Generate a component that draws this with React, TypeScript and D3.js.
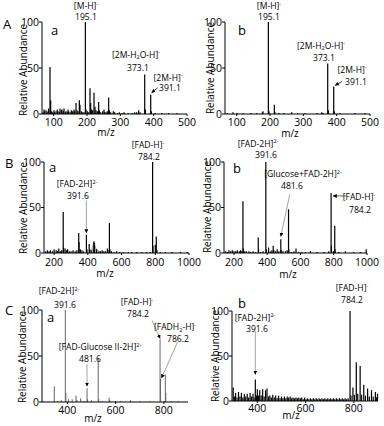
import React from "react";
import * as d3 from "d3";

type Pk = [number, number];

// ---------- tick values ----------
const ticksA = [100, 200, 300, 400, 500];
const ticksB = [200, 400, 600, 800, 1000];
const ticksC = [400, 600, 800];
const yTicks = [0, 50, 100];

// ---------- spectra (m/z, relative abundance) ----------
const peaksAa: Pk[] = [
  [68, 2], [71, 5], [73, 3], [77, 4], [80, 2], [83, 3], [85, 6], [89, 51], [91, 15], [94, 3], [97, 2],
  [101, 4], [103, 2], [107, 3], [111, 5], [113, 3], [117, 2], [119, 6], [123, 4], [125, 5], [129, 3],
  [131, 6], [135, 2], [137, 3], [141, 2], [143, 5], [145, 3], [149, 2], [153, 4], [157, 3], [161, 5],
  [163, 3], [167, 12], [170, 4], [173, 3], [177, 15], [179, 10], [183, 3], [187, 2], [191, 2],
  [195.1, 100], [197, 5], [201, 3], [205, 2], [209, 28], [211, 12], [213, 5], [217, 4], [221, 23],
  [224, 8], [227, 4], [231, 3], [235, 13], [237, 4], [241, 2], [247, 3], [251, 5], [253, 2], [257, 2],
  [261, 3], [265, 18], [267, 4], [271, 2], [279, 3], [283, 2], [291, 1], [297, 2], [305, 1], [311, 2],
  [323, 1], [335, 1], [343, 2], [349, 2], [355, 4], [359, 2], [373.1, 43], [375, 5], [391.1, 21],
  [393, 3], [405, 1], [425, 1], [445, 1], [470, 1],
];
const peaksAb: Pk[] = [
  [72, 1], [89, 2], [101, 1], [119, 1], [143, 1], [161, 1], [177, 2], [179, 3], [195.1, 100], [197, 3],
  [213, 10], [215, 2], [227, 1], [241, 1], [265, 2], [283, 1], [305, 1], [341, 1], [355, 2], [359, 1],
  [373.1, 55], [375, 4], [391.1, 30], [393, 3], [410, 1], [455, 1], [485, 1],
];
const peaksBa: Pk[] = [
  [150, 2], [160, 3], [170, 2], [178, 3], [190, 2], [200, 4], [212, 3], [220, 2], [228, 5], [237, 2],
  [245, 3], [254, 45], [256, 6], [265, 5], [272, 3], [280, 4], [290, 2], [300, 2], [312, 3], [325, 2],
  [335, 3], [346, 22], [348, 12], [356, 4], [365, 3], [375, 2], [391.6, 20], [395, 4], [408, 10],
  [412, 4], [420, 3], [436, 13], [439, 11], [452, 4], [466, 2], [475, 2], [485, 3], [495, 2], [505, 2],
  [516, 5], [520, 3], [528, 33], [531, 4], [540, 2], [555, 1], [570, 2], [590, 1], [610, 1], [640, 1],
  [660, 1], [690, 1], [720, 1], [750, 1], [770, 1], [784.2, 100], [786, 8], [800, 9], [806, 18],
  [810, 3], [830, 1], [860, 1], [900, 1], [950, 1], [990, 1],
];
const peaksBaGray: Pk[] = [
  [425, 6], [430, 9], [434, 12], [441, 10], [444, 8], [448, 6], [455, 4], [460, 3],
];
const peaksBb: Pk[] = [
  [150, 2], [160, 1], [170, 3], [180, 2], [190, 3], [200, 2], [210, 2], [220, 3], [232, 2], [240, 3],
  [247, 2], [254, 57], [256, 5], [265, 2], [275, 2], [290, 2], [300, 1], [315, 2], [330, 1], [346, 17],
  [348, 4], [360, 1], [375, 2], [391.6, 100], [394, 4], [408, 6], [418, 2], [428, 3], [436, 8], [440, 3],
  [450, 2], [460, 4], [470, 2], [481.6, 15], [484, 3], [495, 2], [510, 2], [520, 3], [528, 48], [530, 4],
  [545, 1], [560, 2], [573, 5], [590, 1], [610, 1], [630, 1], [660, 2], [700, 1], [740, 1], [770, 2],
  [784.2, 66], [786, 8], [798, 2], [806, 30], [808, 4], [830, 1], [870, 2], [920, 1], [960, 1], [995, 4],
];
const peaksCa: Pk[] = [
  [300, 1], [346, 17], [360, 1], [375, 2], [391.6, 100], [394, 10], [405, 3], [420, 3], [436, 7], [440, 2],
  [455, 4], [470, 1], [481.6, 15], [484, 3], [500, 2], [528, 48], [530, 3], [545, 1], [573, 5], [576, 2],
  [600, 1], [620, 1], [662, 2], [700, 1], [740, 1], [784.2, 68], [786.2, 25], [800, 1], [806, 30],
  [808, 10], [830, 1], [860, 1],
];
const peaksCb: Pk[] = [
  [300, 15], [305, 5], [310, 9], [316, 4], [322, 10], [328, 5], [334, 9], [340, 4], [346, 8], [352, 5],
  [358, 8], [364, 4], [370, 9], [376, 5], [382, 8], [386, 4], [391.6, 24], [396, 6], [400, 13], [405, 6],
  [410, 12], [416, 6], [422, 13], [428, 5], [434, 12], [440, 14], [446, 5], [452, 6], [458, 4], [464, 7],
  [470, 4], [476, 6], [482, 3], [488, 6], [494, 3], [500, 5], [506, 3], [512, 5], [518, 3], [524, 5],
  [530, 4], [536, 5], [542, 3], [548, 4], [554, 3], [560, 4], [566, 3], [572, 4], [578, 3], [584, 4],
  [590, 2], [596, 4], [602, 2], [608, 3], [614, 2], [620, 3], [626, 2], [632, 3], [638, 2], [644, 3],
  [650, 2], [656, 3], [662, 2], [668, 3], [674, 2], [680, 3], [686, 2], [692, 3], [698, 2], [704, 3],
  [710, 2], [716, 3], [722, 2], [728, 3], [734, 2], [740, 3], [746, 2], [752, 3], [758, 2], [764, 3],
  [770, 2], [776, 3], [784.2, 100], [788, 6], [796, 15], [802, 7], [810, 43], [816, 8], [826, 39],
  [832, 7], [841, 18], [848, 6], [857, 14], [864, 5], [873, 12], [880, 5], [889, 10], [894, 4], [898, 8],
];

// ---------- annotation text ----------
type Seg = { t: string; s?: "sup" | "sub" };
const MH: Seg[] = [{ t: "[M-H]" }, { t: "-", s: "sup" }];
const M2H2O: Seg[] = [{ t: "[2M-H" }, { t: "2", s: "sub" }, { t: "O-H]" }, { t: "-", s: "sup" }];
const M2H: Seg[] = [{ t: "[2M-H]" }, { t: "-", s: "sup" }];
const FADH: Seg[] = [{ t: "[FAD-H]" }, { t: "-", s: "sup" }];
const FAD2H: Seg[] = [{ t: "[FAD-2H]" }, { t: "2-", s: "sup" }];
const GLCFAD: Seg[] = [{ t: "[Glucose+FAD-2H]" }, { t: "2-", s: "sup" }];
const FADGLC: Seg[] = [{ t: "[FAD-Glucose II-2H]" }, { t: "2-", s: "sup" }];
const FADH2: Seg[] = [{ t: "[FADH" }, { t: "2", s: "sub" }, { t: "-H]" }, { t: "-", s: "sup" }];
const seg = (t: string): Seg[] => [{ t }];

type Label = { x: number; y: number; segs: Seg[] };
type Arrow = { mz: number; ab: number; tdx: number; tdy: number; sdx: number; sdy: number; color: string };

type Panel = {
  letter?: string; letterX?: number; letterY?: number;
  sub: string; subX: number; subY: number;
  xDomain: [number, number]; xRange: [number, number]; y0: number; y100: number;
  ticks: number[]; peaks: Pk[]; gray?: Pk[]; color: string; width: number;
  ylabX: number; ylabY: number; mzX: number; mzY: number; tickDy: number;
  labels: Label[]; arrows: Arrow[];
};

const FONT = "'Open Sans', 'Liberation Sans', sans-serif";
const INK = "#000";

const panels: Panel[] = [
  {
    letter: "A", letterX: 3, letterY: 29, sub: "a", subX: 51, subY: 35,
    xDomain: [65, 500], xRange: [42, 187], y0: 114, y100: 22, ticks: ticksA, peaks: peaksAa,
    color: "#000", width: 1.2, ylabX: 23, ylabY: 70, mzX: 106, mzY: 135.5, tickDy: 12,
    labels: [
      { x: 86, y: 9, segs: MH }, { x: 86, y: 19.5, segs: seg("195.1") },
      { x: 136, y: 57.5, segs: M2H2O }, { x: 138, y: 70.5, segs: seg("373.1") },
      { x: 168, y: 80.5, segs: M2H }, { x: 170, y: 91, segs: seg("391.1") },
    ],
    arrows: [{ mz: 391.1, ab: 21, tdx: 1, tdy: -2, sdx: 6, sdy: -5, color: "#222" }],
  },
  {
    sub: "b", subX: 238, subY: 35,
    xDomain: [65, 500], xRange: [225, 370], y0: 114, y100: 22, ticks: ticksA, peaks: peaksAb,
    color: "#000", width: 1.2, ylabX: 210, ylabY: 68, mzX: 290, mzY: 136.5, tickDy: 12,
    labels: [
      { x: 269, y: 9, segs: MH }, { x: 269, y: 19.5, segs: seg("195.1") },
      { x: 321, y: 48.5, segs: M2H2O }, { x: 324, y: 61, segs: seg("373.1") },
      { x: 352, y: 72.5, segs: M2H }, { x: 356, y: 85, segs: seg("391.1") },
    ],
    arrows: [{ mz: 391.1, ab: 30, tdx: 1.5, tdy: -1, sdx: 7, sdy: -4, color: "#222" }],
  },
  {
    letter: "B", letterX: 5, letterY: 168, sub: "a", subX: 49, subY: 172,
    xDomain: [140, 1000], xRange: [44, 189], y0: 253, y100: 162, ticks: ticksB, peaks: peaksBa,
    gray: peaksBaGray, color: "#000", width: 1.2, ylabX: 23, ylabY: 208, mzX: 105, mzY: 276.5, tickDy: 13,
    labels: [
      { x: 148, y: 148, segs: FADH }, { x: 149, y: 160, segs: seg("784.2") },
      { x: 77, y: 187, segs: FAD2H }, { x: 78, y: 198.5, segs: seg("391.6") },
    ],
    arrows: [{ mz: 391.6, ab: 20, tdx: 0, tdy: -2, sdx: 0, sdy: -32, color: "#999" }],
  },
  {
    sub: "b", subX: 233, subY: 173,
    xDomain: [140, 1000], xRange: [224, 367], y0: 253, y100: 162, ticks: ticksB, peaks: peaksBb,
    color: "#000", width: 1.2, ylabX: 207, ylabY: 207, mzX: 288, mzY: 277.5, tickDy: 13,
    labels: [
      { x: 258, y: 146.5, segs: FAD2H }, { x: 266, y: 158, segs: seg("391.6") },
      { x: 303, y: 177, segs: GLCFAD }, { x: 292, y: 189, segs: seg("481.6") },
      { x: 359, y: 200, segs: FADH }, { x: 360, y: 213, segs: seg("784.2") },
    ],
    arrows: [
      { mz: 481.6, ab: 15, tdx: 0, tdy: -3, sdx: 9, sdy: -42, color: "#999" },
      { mz: 784.2, ab: 66, tdx: 2, tdy: 3, sdx: 13, sdy: 0, color: "#555" },
    ],
  },
  {
    letter: "C", letterX: 5, letterY: 315, sub: "a", subX: 47, subY: 322,
    xDomain: [295, 900], xRange: [42, 188], y0: 402, y100: 310, ticks: ticksC, peaks: peaksCa,
    color: "#666", width: 1, ylabX: 22, ylabY: 357, mzX: 93, mzY: 421.5, tickDy: 12,
    labels: [
      { x: 59, y: 294, segs: FAD2H }, { x: 65, y: 307.5, segs: seg("391.6") },
      { x: 137, y: 305, segs: FADH }, { x: 138, y: 317, segs: seg("784.2") },
      { x: 175, y: 330, segs: FADH2 }, { x: 178, y: 342, segs: seg("786.2") },
      { x: 100, y: 350, segs: FADGLC }, { x: 90, y: 362, segs: seg("481.6") },
    ],
    arrows: [
      { mz: 481.6, ab: 15, tdx: 0, tdy: -2, sdx: 0, sdy: -22, color: "#999" },
      { mz: 784.2, ab: 68, tdx: 0, tdy: -1, sdx: -8, sdy: -18, color: "#999" },
      { mz: 786.2, ab: 25, tdx: 1, tdy: -1, sdx: 16, sdy: -36, color: "#999" },
    ],
  },
  {
    sub: "b", subX: 238, subY: 308,
    xDomain: [295, 900], xRange: [232, 378], y0: 401, y100: 311, ticks: ticksC, peaks: peaksCb,
    color: "#000", width: 1.2, ylabX: 215, ylabY: 356, mzX: 291, mzY: 419, tickDy: 11,
    labels: [
      { x: 352, y: 291, segs: FADH }, { x: 352, y: 302.5, segs: seg("784.2") },
      { x: 255, y: 320.5, segs: FAD2H }, { x: 257, y: 332, segs: seg("391.6") },
    ],
    arrows: [{ mz: 391.6, ab: 24, tdx: 0, tdy: -5, sdx: 0, sdy: -43, color: "#999" }],
  },
];

function RichText({ x, y, segs, size }: { x: number; y: number; segs: Seg[]; size: number }) {
  let shift = 0;
  return (
    <text x={x} y={y} textAnchor="middle" fontSize={size} fontFamily={FONT} fill={INK}>
      {segs.map((s, i) => {
        const target = s.s === "sup" ? -3.2 : s.s === "sub" ? 1.6 : 0;
        const dy = target - shift;
        shift = target;
        return (
          <tspan key={i} dy={dy} fontSize={s.s ? size * 0.65 : size}>
            {s.t}
          </tspan>
        );
      })}
    </text>
  );
}

function Spectrum({ p }: { p: Panel }) {
  const x = d3.scaleLinear().domain(p.xDomain).range(p.xRange);
  const y = d3.scaleLinear().domain([0, 100]).range([p.y0, p.y100]);
  const [x0, x1] = p.xRange;
  return (
    <g>
      {p.letter && (
        <text x={p.letterX} y={p.letterY} fontSize={13} fontFamily={FONT} fill={INK}>{p.letter}</text>
      )}
      <text x={p.subX} y={p.subY} fontSize={13} fontFamily={FONT} fill={INK}>{p.sub}</text>
      {(p.gray || []).map(([m, a], i) => (
        <line key={"g" + i} x1={x(m)} x2={x(m)} y1={y(0)} y2={y(a)} stroke="#999" strokeWidth={1} />
      ))}
      {p.peaks.map(([m, a], i) => (
        <line key={i} x1={x(m)} x2={x(m)} y1={y(0)} y2={y(a)} stroke={p.color} strokeWidth={p.width} />
      ))}
      <line x1={x0} x2={x1} y1={p.y0} y2={p.y0} stroke="#000" strokeWidth={1} />
      <line x1={x0} x2={x0} y1={p.y0} y2={p.y100} stroke="#000" strokeWidth={1} />
      {yTicks.map((t) => (
        <g key={"y" + t}>
          <line x1={x0 - 3} x2={x0} y1={y(t)} y2={y(t)} stroke="#000" />
          <text x={x0 - 3} y={y(t) + 3.7} textAnchor="end" fontSize={10.5} fontFamily={FONT} fill={INK}>{t}</text>
        </g>
      ))}
      {p.ticks.map((t) => (
        <g key={"x" + t}>
          <line x1={x(t)} x2={x(t)} y1={p.y0} y2={p.y0 + 2} stroke="#000" />
          <text x={x(t)} y={p.y0 + p.tickDy} textAnchor="middle" fontSize={10.5} fontFamily={FONT} fill={INK}>{t}</text>
        </g>
      ))}
      <text x={p.mzX} y={p.mzY} textAnchor="middle" fontSize={10} fontFamily={FONT} fill={INK}>m/z</text>
      <text
        transform={`translate(${p.ylabX + 3.5},${p.ylabY}) rotate(-90)`}
        textAnchor="middle" fontSize={10} fontFamily={FONT} fill={INK}
      >
        Relative Abundance
      </text>
      {p.arrows.map((a, i) => {
        const tx = x(a.mz) + a.tdx;
        const ty = y(a.ab) + a.tdy;
        return (
          <line key={"a" + i} x1={tx + a.sdx} y1={ty + a.sdy} x2={tx} y2={ty}
            stroke={a.color} strokeWidth={0.9} markerEnd="url(#ah)" />
        );
      })}
      {p.labels.map((l, i) => (
        <RichText key={"l" + i} x={l.x} y={l.y} segs={l.segs} size={8.6} />
      ))}
    </g>
  );
}

export default function App() {
  return (
    <svg width={384} height={426} style={{ display: "block", position: "absolute", left: 0, top: 0, background: "#fff" }}>
      <defs>
        <marker id="ah" viewBox="0 0 6 6" refX={5.5} refY={3} markerWidth={4} markerHeight={4}
          markerUnits="userSpaceOnUse" orient="auto">
          <path d="M0,0L6,3L0,6z" fill="#000" />
        </marker>
      </defs>
      <rect width={384} height={426} fill="#fff" />
      {panels.map((p, i) => (
        <Spectrum key={i} p={p} />
      ))}
    </svg>
  );
}
